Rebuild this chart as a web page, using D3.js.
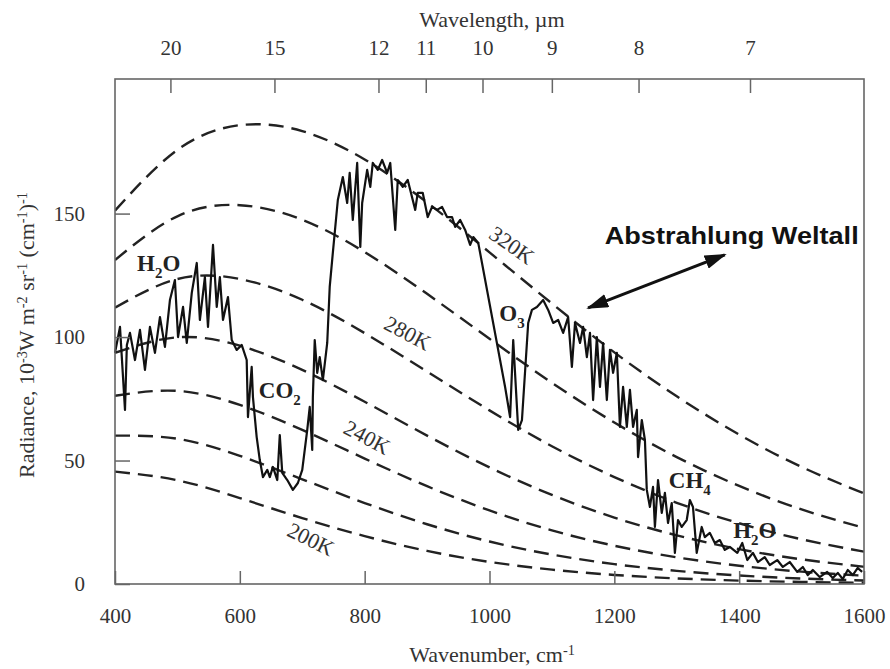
<!DOCTYPE html>
<html>
<head>
<script src="https://d3js.org/d3.v7.min.js"></script>
<style>
  body { margin: 0; background: #fff; }
  svg { display: block; }
  text { font-family: "Liberation Serif", "Times New Roman", serif; }
</style>
</head>
<body>
<svg width="890" height="669"></svg>
<script>
// blackbody curves, read at every 100 cm-1
const planckWn = [400, 500, 600, 700, 800, 900, 1000, 1100, 1200, 1300, 1400, 1500, 1600];
const temps = [200, 220, 240, 260, 280, 300, 320];
const rad200 = [45.5, 42.0, 34.8, 26.7, 19.4, 13.4, 8.95, 5.80, 3.67, 2.27, 1.38, 0.83, 0.49];
const rad220 = [60.1, 58.8, 51.9, 42.4, 32.8, 24.2, 17.2, 11.9, 8.04, 5.32, 3.45, 2.21, 1.39];
const rad240 = [76.2, 78.2, 72.5, 62.4, 50.8, 39.6, 29.8, 21.7, 15.5, 10.8, 7.40, 5.00, 3.33];
const rad260 = [93.6, 99.9, 96.5, 86.7, 73.8, 60.1, 47.2, 36.1, 26.9, 19.7, 14.1, 9.99, 6.97];
const rad280 = [111.9, 123.5, 123.5, 115.1, 101.6, 86.0, 70.3, 55.8, 43.3, 32.9, 24.6, 18.1, 13.1];
const rad300 = [131.2, 148.9, 153.4, 147.5, 134.4, 117.5, 99.3, 81.5, 65.4, 51.4, 39.7, 30.2, 22.7];
const rad320 = [151.2, 175.8, 185.8, 183.4, 171.9, 154.5, 134.3, 113.6, 93.8, 76.0, 60.5, 47.4, 36.7];
const planckSets = [rad200, rad220, rad240, rad260, rad280, rad300, rad320];

// measured spectrum [wavenumber, radiance]
const spectrum = [
  [400,93.6],[408,104.1],[416,70.5],[419,96.8],[424,101.7],[432,90.7],[440,102.9],[448,86.7],
  [456,104.1],[464,93.6],[472,108.1],[480,96.0],[488,115.0],[496,123.1],[501,100.0],[509,112.2],
  [515,97.6],[523,117.9],[531,130.0],[536,106.9],[544,124.3],[549,104.1],[557,137.3],[563,112.2],
  [568,124.3],[573,106.9],[581,116.2],[587,98.8],[595,94.8],[603,96.8],[611,90.7],[613,67.6],
  [619,87.9],[621,75.7],[627,59.5],[632,50.2],[637,43.3],[644,46.2],[648,43.3],[653,47.4],
  [660,42.1],[664,60.3],[668,45.0],[676,42.1],[685,38.1],[693,40.9],[700,46.2],[708,62.4],
  [712,71.7],[716,54.3],[717,75.7],[720,98.8],[724,85.5],[728,91.9],[733,82.6],[740,97.6],
  [744,120.3],[749,134.1],[757,155.5],[765,164.8],[772,154.3],[776,166.5],[781,147.4],[788,170.5],
  [793,136.5],[796,154.3],[804,167.7],[809,160.8],[813,170.5],[821,167.7],[828,171.7],[836,166.5],
  [841,170.5],[849,143.4],[853,163.6],[861,160.8],[869,163.6],[881,151.5],[885,158.4],[893,158.4],
  [901,148.6],[908,152.7],[916,151.5],[924,152.7],[932,148.6],[940,148.6],[945,144.6],[953,147.4],
  [961,143.4],[969,137.3],[974,140.5],[982,138.1],[1025,79.8],[1033,67.6],[1038,98.8],[1046,62.4],
  [1052,66.4],[1062,105.7],[1068,111.0],[1076,112.2],[1086,115.0],[1094,111.0],[1102,105.7],[1110,106.9],
  [1118,101.7],[1126,108.1],[1132,87.9],[1137,105.7],[1145,97.6],[1150,104.1],[1156,91.9],[1161,101.7],
  [1166,74.5],[1172,100.0],[1177,79.8],[1182,97.6],[1188,74.5],[1193,94.8],[1198,85.5],[1204,93.6],
  [1209,63.6],[1214,79.8],[1220,63.6],[1225,78.6],[1230,63.6],[1236,70.5],[1238,51.4],[1244,66.4],
  [1249,58.3],[1252,38.1],[1257,31.2],[1262,39.3],[1265,23.1],[1270,42.1],[1276,28.8],[1281,36.9],
  [1286,24.7],[1292,32.8],[1297,12.6],[1302,25.9],[1308,23.1],[1316,25.9],[1321,34.0],[1326,31.2],
  [1332,12.6],[1340,23.1],[1345,19.0],[1353,20.7],[1361,16.6],[1369,17.8],[1377,13.8],[1385,15.0],
  [1397,12.6],[1405,16.6],[1413,9.7],[1422,12.6],[1430,8.9],[1441,10.9],[1449,7.7],[1461,9.7],
  [1470,6.9],[1481,8.9],[1493,4.9],[1502,6.9],[1510,3.6],[1518,5.7],[1529,2.8],[1541,4.9],
  [1550,2.4],[1558,4.5],[1566,2.0],[1574,5.7],[1582,3.6],[1590,6.5],[1597,4.9]
];

const xTicks = [400, 600, 800, 1000, 1200, 1400, 1600];
const yTicks = [0, 50, 100, 150];
const wavelengths = [20, 15, 12, 11, 10, 9, 8, 7];

// labels: [text parts, wavenumber, radiance]
const gasLabels = [
  [[["H", 0], ["2", 1], ["O", 0]], 470, 130.0],
  [[["CO", 0], ["2", 1]], 664, 78.6],
  [[["O", 0], ["3", 1]], 1036, 109.8],
  [[["CH", 0], ["4", 1]], 1321, 42.1],
  [[["H", 0], ["2", 1], ["O", 0]], 1425, 21.9]
];
// [text, wavenumber, radiance, rotation]
const tempLabels = [
  ["320K", 1036, 137.3, 35],
  ["280K", 869, 101.7, 28],
  ["240K", 804, 59.5, 28],
  ["200K", 714, 18.2, 26]
];

const svg = d3.select("svg");
const plotL = 115, plotR = 864, plotT = 79, plotB = 584;

const x = d3.scaleLinear().domain([400, 1600]).range([plotL, plotR]);
const y = d3.scaleLinear().domain([0, 204.5]).range([plotB, plotT]);

const defs = svg.append("defs");
defs.append("clipPath").attr("id", "plot")
  .append("rect").attr("x", plotL).attr("y", plotT)
  .attr("width", plotR - plotL).attr("height", plotB - plotT);

// helper for sub/superscripts; shift: 1 = sub, -1 = super
function richText(sel, parts, size) {
  let cur = 0;
  parts.forEach(([t, s]) => {
    const target = s * size * 0.3;
    sel.append("tspan")
      .attr("dy", target - cur)
      .attr("font-size", s === 0 ? size : size * 0.65)
      .text(t);
    cur = target;
  });
}

// blackbody curves
const planckLine = d3.line()
  .x((d, i) => x(planckWn[i]))
  .y(d => y(d))
  .curve(d3.curveNatural);

svg.append("g").attr("clip-path", "url(#plot)")
  .selectAll("path")
  .data(planckSets)
  .join("path")
  .attr("d", planckLine)
  .attr("fill", "none")
  .attr("stroke", "#222")
  .attr("stroke-width", 2.4)
  .attr("stroke-dasharray", "15,8");

// measured spectrum
svg.append("path")
  .datum(spectrum)
  .attr("d", d3.line().x(d => x(d[0])).y(d => y(d[1])))
  .attr("fill", "none")
  .attr("stroke", "#111")
  .attr("stroke-width", 2.2)
  .attr("stroke-linejoin", "round");

// frame and axes
svg.append("rect")
  .attr("x", plotL).attr("y", plotT)
  .attr("width", plotR - plotL).attr("height", plotB - plotT)
  .attr("fill", "none").attr("stroke", "#666").attr("stroke-width", 1.6);

const axisColor = "#666";
function styleAxis(g) {
  g.select(".domain").remove();
  g.selectAll(".tick line").attr("stroke", axisColor).attr("stroke-width", 1.5);
  g.selectAll(".tick text")
    .attr("fill", "#333")
    .attr("font-size", 21);
}

svg.append("g")
  .attr("transform", `translate(${plotL},0)`)
  .call(d3.axisLeft(y).tickValues(yTicks).tickSize(-15).tickPadding(30))
  .call(styleAxis);

svg.append("g")
  .attr("transform", `translate(0,${plotB})`)
  .call(d3.axisBottom(x).tickValues(xTicks).tickFormat(d3.format("d"))
    .tickSize(-13).tickPadding(24))
  .call(styleAxis);

// the wavelength scale in the original sits a few pixels left
svg.append("g")
  .attr("transform", `translate(-7,${plotT})`)
  .call(d3.axisTop(x).tickValues(wavelengths.map(l => 10000 / l))
    .tickFormat(v => Math.round(10000 / v)).tickSize(-14).tickPadding(24))
  .call(styleAxis);

// axis titles
svg.append("text")
  .attr("x", 492).attr("y", 27)
  .attr("text-anchor", "middle")
  .attr("font-size", 22).attr("fill", "#333")
  .text("Wavelength, \u00b5m");

const xTitle = svg.append("text")
  .attr("x", 492).attr("y", 662)
  .attr("text-anchor", "middle")
  .attr("font-size", 22).attr("fill", "#333");
richText(xTitle, [["Wavenumber, cm", 0], ["-1", -1]], 22);

const yTitle = svg.append("text")
  .attr("transform", "translate(34,335) rotate(-90)")
  .attr("text-anchor", "middle")
  .attr("font-size", 22).attr("fill", "#333");
richText(yTitle, [["Radiance, 10", 0], ["-3", -1], ["W m", 0], ["-2", -1], [" sr", 0], ["-1", -1],
  [" (cm", 0], ["-1", -1], [")", 0], ["-1", -1]], 22);

// gas labels
gasLabels.forEach(([parts, wn, r]) => {
  const t = svg.append("text")
    .attr("x", x(wn)).attr("y", y(r) + 8)
    .attr("text-anchor", "middle")
    .attr("font-size", 23).attr("font-weight", "bold").attr("fill", "#222");
  richText(t, parts, 23);
});

// temperature labels
tempLabels.forEach(([txt, wn, r, rot]) => {
  svg.append("text")
    .attr("transform", `translate(${x(wn)},${y(r)}) rotate(${rot})`)
    .attr("text-anchor", "middle")
    .attr("dy", "0.35em")
    .attr("font-size", 22).attr("fill", "#333")
    .text(txt);
});

// annotation
defs.append("marker")
  .attr("id", "head")
  .attr("viewBox", "0 -7 22 14")
  .attr("refX", 20).attr("refY", 0)
  .attr("markerUnits", "userSpaceOnUse")
  .attr("markerWidth", 22).attr("markerHeight", 14)
  .attr("orient", "auto-start-reverse")
  .append("path").attr("d", "M0,-7L22,0L0,7Z").attr("fill", "#111");

svg.append("line")
  .attr("x1", x(1158)).attr("y1", y(111.8))
  .attr("x2", x(1377)).attr("y2", y(133.3))
  .attr("stroke", "#111").attr("stroke-width", 3)
  .attr("marker-start", "url(#head)")
  .attr("marker-end", "url(#head)");

svg.append("text")
  .attr("x", x(1388)).attr("y", y(141.4) + 9)
  .attr("text-anchor", "middle")
  .style("font-family", "'Liberation Sans', Arial, sans-serif")
  .attr("font-weight", "bold")
  .attr("font-size", 24)
  .attr("fill", "#111")
  .attr("textLength", 254)
  .attr("lengthAdjust", "spacingAndGlyphs")
  .text("Abstrahlung Weltall");
</script>
</body>
</html>
